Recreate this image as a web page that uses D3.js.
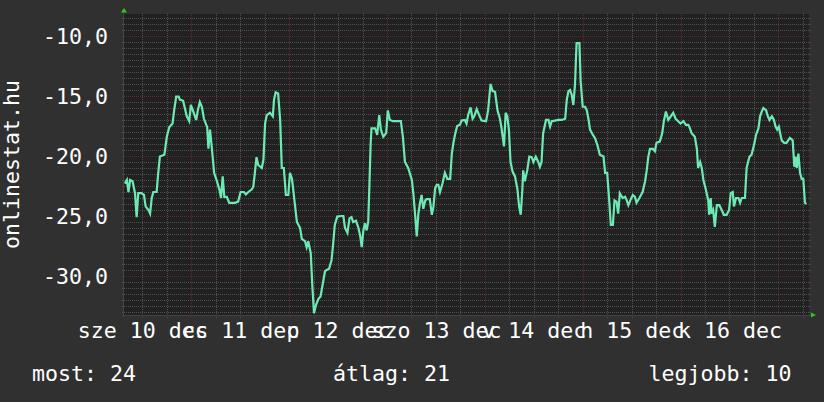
<!DOCTYPE html>
<html>
<head>
<meta charset="utf-8">
<script src="https://cdn.jsdelivr.net/npm/d3@7/dist/d3.min.js"></script>
<style>
  html, body { margin: 0; padding: 0; background: #303030; }
  svg { display: block; }
  text { font-family: "DejaVu Sans Mono", monospace; fill: #ffffff; }
</style>
</head>
<body>
<svg id="chart" width="824" height="402"></svg>
<script>
// ---- data (hours after 2014-12-10 07:30 UTC, value) ----
const hours = [0.2,0.7,1.1,1.5,2.1,2.7,3.1,3.5,4.3,4.9,5.3,6.0,6.4,6.8,7.2,8.0,8.4,8.8,9.9,10.5,11.1,11.9,12.3,12.8,13.4,13.7,14.5,15.4,16.0,16.4,17.0,17.7,18.1,18.6,19.1,19.6,20.4,20.7,21.1,21.5,22.1,22.7,23.4,23.8,24.2,24.6,25.2,25.8,27.2,28.0,28.6,29.4,29.9,30.5,31.3,31.7,32.1,32.5,32.9,33.8,34.2,34.6,35.0,35.8,36.5,36.8,37.2,37.8,38.3,38.7,39.2,39.7,40.3,40.7,41.2,41.8,42.4,43.2,43.6,44.4,44.8,45.2,45.8,46.2,46.6,47.1,47.7,48.2,48.7,49.3,49.7,50.3,50.9,51.3,51.7,52.3,53.4,53.8,54.2,54.8,55.3,55.8,56.2,56.9,57.5,57.9,58.3,58.7,59.1,59.5,59.9,60.2,60.5,60.7,61.6,62.1,62.6,63.0,63.6,64.3,64.7,65.2,66.0,67.3,67.9,68.4,68.9,69.7,70.6,71.0,71.4,71.8,72.2,72.6,73.0,73.4,73.9,74.2,75.0,75.5,75.9,76.3,76.7,77.1,77.5,78.1,78.7,79.3,80.0,80.4,80.8,81.2,81.7,82.4,82.8,83.6,84.0,84.4,85.0,85.5,85.9,86.5,87.1,87.7,88.8,89.3,89.9,90.4,91.0,91.6,92.2,92.6,93.2,93.6,94.0,94.4,94.8,95.3,95.9,96.5,96.9,97.3,97.7,97.9,98.3,98.9,99.4,100.0,100.4,101.0,101.6,102.0,102.4,102.8,103.5,104.1,104.5,104.9,105.7,106.5,107.3,108.2,108.6,109.0,109.4,109.8,110.2,110.6,111.0,111.7,112.0,112.5,113.1,113.5,113.9,114.3,115.0,115.5,116.1,116.7,117.6,118.0,118.5,119.0,119.4,119.9,120.3,120.8,121.2,121.6,122.3,122.9,123.3,123.7,124.3,124.8,125.3,125.7,126.4,127.2,127.8,128.2,128.6,129.0,129.7,130.2,130.6,131.4,132.0,132.4,132.9,133.5,134.1,134.7,135.3,135.9,136.5,137.2,137.8,138.4,138.8,139.2,140.0,140.5,140.8,141.3,141.7,142.1,142.7,143.3,143.5,143.9,144.1,144.5,144.9,145.4,146.0,146.6,147.1,147.8,148.4,148.8,149.3,149.6,150.1,150.7,151.1,151.5,152.3,152.7,153.4,153.9,154.5,155.0,155.6,156.0,156.4,156.8,157.5,157.8,158.3,158.9,159.4,159.8,160.2,160.6,161.3,161.9,162.5,162.9,163.3,164.0,164.4,164.7,165.0,165.4,165.8,166.2,166.6,167.0,167.4];
const values = [-22.3,-22.0,-23.0,-22.0,-22.1,-23.1,-25.1,-23.1,-23.1,-23.25,-24.2,-24.5,-24.8,-23.5,-23.0,-23.0,-21.4,-20.05,-19.9,-18.4,-17.6,-17.3,-16.2,-15.05,-15.05,-15.3,-15.4,-16.7,-17.1,-15.75,-16.3,-17.0,-16.2,-15.5,-15.9,-16.9,-17.6,-19.4,-17.8,-19.2,-21.4,-22.0,-22.8,-23.5,-21.7,-23.4,-23.4,-23.9,-23.9,-23.8,-23.0,-23.0,-23.2,-23.0,-22.8,-22.6,-21.4,-20.1,-20.75,-21.0,-20.3,-17.3,-16.6,-16.4,-16.7,-15.3,-14.7,-14.8,-17.0,-21.0,-21.0,-23.25,-23.25,-21.4,-21.9,-23.7,-25.5,-26.0,-26.9,-27.1,-27.6,-27.1,-28.1,-30.9,-33.1,-32.4,-31.9,-31.7,-30.75,-29.6,-29.5,-29.4,-28.7,-27.3,-25.75,-25.05,-25.0,-25.0,-26.0,-26.4,-25.2,-25.1,-25.5,-25.4,-26.0,-26.6,-27.6,-26.2,-25.6,-26.2,-25.5,-22.3,-18.9,-17.7,-17.7,-18.25,-16.6,-17.8,-18.4,-18.1,-16.2,-17.0,-17.1,-17.1,-17.1,-18.4,-20.5,-21.0,-22.0,-23.25,-24.9,-26.7,-24.8,-23.9,-23.25,-24.4,-23.7,-23.6,-23.6,-24.9,-24.2,-22.7,-22.4,-22.4,-23.0,-22.3,-21.4,-21.9,-21.9,-19.8,-18.9,-18.2,-17.5,-17.4,-17.05,-17.0,-17.3,-16.6,-15.95,-16.9,-16.7,-16.1,-16.6,-17.05,-17.1,-16.2,-14.0,-14.6,-14.65,-16.2,-16.9,-17.7,-19.2,-16.4,-16.7,-17.8,-20.5,-21.3,-21.7,-22.8,-24.2,-24.9,-22.8,-21.2,-22.1,-21.2,-20.05,-20.1,-20.5,-20.05,-20.5,-20.9,-20.5,-18.1,-17.0,-17.0,-17.55,-17.1,-17.05,-17.0,-17.0,-16.9,-15.3,-14.6,-14.5,-14.9,-15.75,-14.1,-10.6,-10.6,-13.8,-15.9,-15.9,-16.2,-16.9,-17.8,-18.25,-18.5,-19.1,-19.9,-20.05,-21.4,-21.4,-23.7,-25.75,-25.75,-23.7,-23.8,-24.8,-23.1,-23.5,-23.4,-23.7,-24.1,-23.6,-23.25,-23.4,-23.9,-23.5,-23.0,-22.1,-21.2,-20.05,-19.4,-19.4,-19.6,-18.9,-18.8,-18.1,-17.1,-16.3,-17.0,-16.7,-16.4,-16.9,-17.1,-17.3,-17.1,-17.4,-17.4,-17.7,-18.1,-18.4,-19.4,-21.0,-20.5,-21.0,-22.0,-22.8,-23.7,-24.9,-23.5,-24.8,-24.5,-25.9,-24.1,-24.1,-24.5,-24.9,-24.9,-24.5,-23.1,-23.0,-24.2,-23.5,-23.5,-23.9,-23.5,-23.5,-21.0,-20.05,-19.9,-19.1,-18.25,-17.7,-16.7,-16.3,-16.0,-16.2,-16.6,-17.0,-16.7,-17.0,-17.55,-17.8,-17.55,-18.7,-18.9,-18.9,-18.7,-18.5,-18.7,-20.9,-20.05,-21.0,-19.8,-21.4,-21.9,-21.9,-23.9,-24.0];

const yTickValues = [-10, -15, -20, -25, -30];
const yTickLabels = ["-10,0", "-15,0", "-20,0", "-25,0", "-30,0"];
const xTickLabels = ["sze 10 dec", "cs 11 dec", "p 12 dec", "szo 13 dec", "v 14 dec", "h 15 dec", "k 16 dec"];
const yTitle = "onlinestat.hu";
const legendTexts = ["most: 24", "átlag: 21", "legjobb: 10"];

// ---- layout ----
const FONT = 21.6;
const plot = { left: 124, right: 809, top: 14, bottom: 315 };
const t0 = Date.UTC(2014, 11, 10, 7, 30);
const HOUR = 3600 * 1000;
const start = new Date(t0), end = new Date(t0 + 168 * HOUR);

const x = d3.scaleUtc().domain([start, end]).range([plot.left, plot.right]);
const y = d3.scaleLinear().domain([-33.25, -8.17]).range([plot.bottom, plot.top]);

const svg = d3.select("#chart");
svg.append("rect").attr("width", 824).attr("height", 402).attr("fill", "#303030");
svg.append("rect")
  .attr("x", plot.left).attr("y", plot.top)
  .attr("width", plot.right - plot.left).attr("height", plot.bottom - plot.top)
  .attr("fill", "#212121");

const grid = svg.append("g").attr("shape-rendering", "crispEdges");
const MINOR = "#4f4f4f", MAJOR = "#5f2c2c";
// horizontal minor grid every 0.5
const yMinor = d3.range(-33, -8, 0.5).filter(v => v % 5 !== 0);
grid.selectAll(".hmin").data(yMinor).join("line")
  .attr("x1", plot.left - 2).attr("x2", plot.right + 2)
  .attr("y1", d => Math.round(y(d)) + 0.5).attr("y2", d => Math.round(y(d)) + 0.5)
  .attr("stroke", MINOR).attr("stroke-dasharray", "1,1");
// vertical minor grid every 6h
const xMinor = d3.utcHour.every(6).range(start, end).filter(d => d.getUTCHours() !== 0);
grid.selectAll(".vmin").data(xMinor).join("line")
  .attr("x1", d => Math.round(x(d)) + 0.5).attr("x2", d => Math.round(x(d)) + 0.5)
  .attr("y1", plot.top - 1).attr("y2", plot.bottom + 3)
  .attr("stroke", MINOR).attr("stroke-dasharray", "1,1");
// major grid
grid.selectAll(".hmaj").data(yTickValues).join("line")
  .attr("x1", plot.left - 2).attr("x2", plot.right + 2)
  .attr("y1", d => Math.round(y(d)) + 0.5).attr("y2", d => Math.round(y(d)) + 0.5)
  .attr("stroke", MAJOR).attr("stroke-dasharray", "1,1");
const xMajor = d3.utcDay.range(start, end);
grid.selectAll(".vmaj").data(xMajor).join("line")
  .attr("x1", d => Math.round(x(d)) + 0.5).attr("x2", d => Math.round(x(d)) + 0.5)
  .attr("y1", plot.top - 1).attr("y2", plot.bottom + 3)
  .attr("stroke", MAJOR).attr("stroke-dasharray", "1,1");

// axis lines
grid.append("line").attr("x1", plot.left - 2).attr("x2", plot.right + 3)
  .attr("y1", plot.bottom + 0.5).attr("y2", plot.bottom + 0.5).attr("stroke", "#444444");
grid.append("line").attr("x1", plot.left - 0.5).attr("x2", plot.left - 0.5)
  .attr("y1", plot.top - 2).attr("y2", plot.bottom + 2).attr("stroke", "#444444");

// arrows
svg.append("path").attr("d", `M${plot.left - 3},${plot.top - 1.5}L${plot.left + 3},${plot.top - 1.5}L${plot.left},${plot.top - 6}Z`).attr("fill", "#22cc22");
svg.append("path").attr("d", `M${plot.right + 2},${plot.bottom - 2.5}L${plot.right + 2},${plot.bottom + 2.5}L${plot.right + 7},${plot.bottom}Z`).attr("fill", "#22cc22");

// data line
const pts = hours.map((h, i) => ({ t: new Date(t0 + h * HOUR), v: values[i] }));
const line = d3.line().x(d => x(d.t)).y(d => y(d.v));
svg.append("path").datum(pts)
  .attr("d", line)
  .attr("fill", "none")
  .attr("stroke", "#6deab4")
  .attr("stroke-width", 2.2)
  .attr("stroke-linejoin", "miter");

// y axis labels
const yAxis = d3.axisLeft(y).tickValues(yTickValues)
  .tickFormat((d, i) => yTickLabels[i]).tickSize(0).tickPadding(16);
const gy = svg.append("g").attr("transform", `translate(${plot.left},0)`).call(yAxis);
gy.select(".domain").remove();
gy.selectAll("text").attr("font-family", "DejaVu Sans Mono").attr("font-size", FONT)
  .attr("fill", "#ffffff").attr("dy", "0.35em");

// x axis labels at noon of each day
const noons = d3.utcDay.range(new Date(Date.UTC(2014, 11, 10)), new Date(Date.UTC(2014, 11, 17)))
  .map(d => new Date(+d + 12 * HOUR));
const xAxis = d3.axisBottom(x).tickValues(noons)
  .tickFormat((d, i) => xTickLabels[i]).tickSize(0).tickPadding(8);
const gx = svg.append("g").attr("transform", `translate(0,${plot.bottom})`).call(xAxis);
gx.select(".domain").remove();
gx.selectAll("text").attr("font-family", "DejaVu Sans Mono").attr("font-size", FONT)
  .attr("fill", "#ffffff").attr("dy", "0.71em");

// y title
svg.append("text").attr("transform", "translate(18.5,164.5) rotate(-90)")
  .attr("text-anchor", "middle").attr("font-size", FONT).text(yTitle);

// legend
svg.append("text").attr("x", 32).attr("y", 381).attr("font-size", FONT).text(legendTexts[0]);
svg.append("text").attr("x", 333).attr("y", 381).attr("font-size", FONT).text(legendTexts[1]);
svg.append("text").attr("x", 648.5).attr("y", 381).attr("font-size", FONT).text(legendTexts[2]);
</script>
</body>
</html>
